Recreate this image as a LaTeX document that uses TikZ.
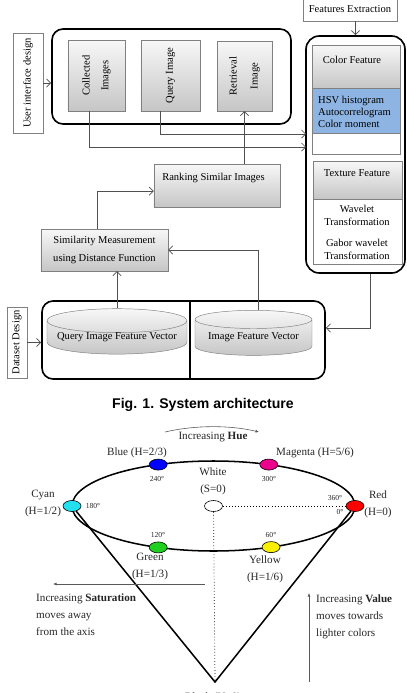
\documentclass[tikz,border=0pt]{standalone}
\usepackage{fontspec}
\setmainfont{Liberation Serif}
\newfontfamily\capfont{Liberation Sans}
\usepackage{graphicx}
\usetikzlibrary{arrows.meta,shapes.geometric,calc}

\definecolor{hsvblue}{HTML}{8DB4E2}
\definecolor{linegray}{HTML}{505050}
\definecolor{boxgray}{HTML}{808080}
\definecolor{dotcyan}{HTML}{22E0F0}
\definecolor{dotgreen}{HTML}{20D020}
\definecolor{dotyellow}{HTML}{F8F000}

\tikzset{
  txt/.style={font=\fontsize{9}{11}\selectfont, inner sep=0pt},
  lbox/.style={draw=boxgray, fill=white, inner sep=0pt, font=\fontsize{9}{11}\selectfont},
  gbox/.style={draw=boxgray, top color=gray!6, bottom color=gray!45, inner sep=0pt, font=\fontsize{9}{11}\selectfont},
  bigbox/.style={draw=black, line width=1.4pt, rounded corners=0.33cm, inner sep=0pt},
  conn/.style={draw=linegray, line width=0.6pt, -{Straight Barb[length=3.5pt,width=7pt]}},
  drum/.style={cylinder, shape border rotate=90, aspect=0.2, draw=boxgray, top color=gray!6, bottom color=gray!45, inner sep=0pt, font=\fontsize{9}{11}\selectfont},
  dot/.style={ellipse, draw=black, line width=0.5pt, minimum width=0.54cm, minimum height=0.33cm, inner sep=0pt},
  lbl/.style={font=\fontsize{9.5}{14.5}\selectfont, align=center, inner sep=0pt, text=black!85},
  deg/.style={font=\fontsize{6.5}{8}\selectfont, inner sep=0pt, text=black!85},
  thinarrow/.style={draw=gray!70!black, line width=0.5pt, -{Latex[length=3pt,width=2.5pt]}}
}

\begin{document}
\begin{tikzpicture}[x=0.03cm, y=-0.03cm]
\useasboundingbox (0,0) rectangle (406,693);

% user interface
\node[lbox, minimum width=0.9cm, minimum height=3cm] (ui) at (28,83) {\rotatebox{90}{User interface design}};
\node[bigbox, minimum width=7.17cm, minimum height=2.85cm] (top) at (171.5,76.5) {};
\node[gbox, minimum width=1.71cm, minimum height=2.13cm] (coll) at (96.5,75.5) {\rotatebox{90}{\begin{tabular}{@{}c@{}}Collected\\[5pt]Images\end{tabular}}};
\node[gbox, minimum width=1.77cm, minimum height=2.13cm] (query) at (170.5,75.5) {\rotatebox{90}{Query Image}};
\node[gbox, minimum width=1.65cm, minimum height=2.1cm] (retr) at (244.5,76) {\rotatebox{90}{\begin{tabular}{@{}c@{}}Retrieval\\[7pt]Image\end{tabular}}};
\draw[conn] (ui.east) -- (ui.east -| top.west);

% features
\node[lbox, minimum width=2.82cm, minimum height=0.72cm] (fx) at (350,9) {Features Extraction};
\node[bigbox, rounded corners=0.4cm, minimum width=2.97cm, minimum height=7.11cm] (feat) at (355.5,154.5) {};
\node[gbox, minimum width=2.64cm, minimum height=1.29cm] (colf) at (356,66.5) {};
\node[txt] (colf-t) at (352,60) {Color Feature};
\node[lbox, fill=hsvblue, minimum width=2.64cm, minimum height=1.35cm] (hsv) at (356,110.5) {};
\node[txt, anchor=west, align=left, font=\fontsize{9}{10.2}\selectfont] (hsv-t) at (318,112) {HSV histogram\\Autocorrelogram\\Color moment};
\node[lbox, minimum width=2.64cm, minimum height=0.63cm] (colw) at (356,143.5) {};
\node[gbox, minimum width=2.67cm, minimum height=1.14cm] (texf) at (357.5,180) {};
\node[txt] (texf-t) at (357,173) {Texture Feature};
\node[lbox, minimum width=2.67cm, minimum height=1.95cm] (texw) at (357.5,231.5) {};
\node[txt, align=center] (wav) at (357,215.5) {Wavelet\\Transformation};
\node[txt, align=center] (gab) at (357,249.5) {Gabor wavelet\\Transformation};
\draw[conn] (fx.south -| feat.north) -- (feat.north);

\coordinate (in1) at (306,134);
\coordinate (in2) at (306,147);
\draw[conn] ([xshift=-0.315cm]query.south) |- (in1);
\draw[conn] ([xshift=-0.225cm]coll.south) |- (in2);

% ranking and similarity
\node[gbox, minimum width=3.78cm, minimum height=1.29cm] (rank) at (217,185.5) {};
\node[txt] (rank-t) at (213.5,178) {Ranking Similar Images};
\draw[conn] (rank.north -| retr.south) -- (retr.south);
\node[gbox, minimum width=3.81cm, minimum height=1.26cm, align=center, font=\fontsize{9}{16}\selectfont] (sim) at (104.5,250) {Similarity Measurement\\using Distance Function};
\draw[conn] ([xshift=-0.22cm]sim.north) |- ([yshift=-0.17cm]rank.west);

% dataset
\node[lbox, minimum width=0.6cm, minimum height=2.13cm] (ds) at (17,342.5) {\rotatebox{90}{Dataset Design}};
\node[bigbox, minimum width=8.49cm, minimum height=2.34cm] (dsb) at (183.5,340) {};
\draw[line width=1.4pt] (dsb.north -| 190,0) -- (dsb.south -| 190,0);
\node[drum, minimum width=4.2cm, minimum height=1.35cm] (qfv) at (117,337.5) {Query Image Feature Vector};
\node[drum, minimum width=3.51cm, minimum height=1.35cm] (ifv) at (253.5,337.5) {Image Feature Vector};
\draw[conn] (ds.east) -- (ds.east -| dsb.west);
\draw[conn] (qfv.north) -- (qfv.north |- sim.south);
\draw[conn] ([xshift=0.135cm]ifv.north) |- (sim.east);
\draw[conn] ([xshift=0.44cm]feat.south) |- ([yshift=0.36cm]dsb.east);

\node[font=\fontsize{12}{14}\selectfont\capfont\bfseries, inner sep=0pt] (cap) at (203,405) {Fig. 1. System architecture};

% hsv cone
\coordinate (c) at (213.5,506);
\coordinate (apex) at (215,682);
\draw[line width=1.3pt] (c) ellipse [x radius=141.5, y radius=45];
\foreach \nm/\ang/\col in {red/0/red, yellow/66/dotyellow, green/113/dotgreen, cyan/180/dotcyan, blue/247/blue, magenta/293/magenta}
  \node[dot, fill=\col] (\nm) at ($(c)+(\ang:141.5 and 45)$) {};
\node[dot, fill=white] (white) at (c) {};
\draw[line width=1.3pt] (cyan) -- (apex) -- (red);
\draw[dotted, line width=0.6pt] (white) -- (red);
\draw[dotted, line width=0.6pt] (white) -- (apex);

\coordinate (hue-a) at (165,432);
\coordinate (hue-b) at (259,432);
\draw[thinarrow] (hue-a) .. controls (195,425) and (230,425) .. (hue-b);
\node[lbl] (hue-t) at (213,437) {Increasing \textbf{Hue}};

\node[lbl] (blue-t) at (137,453) {Blue (H=2/3)};
\node[lbl] (magenta-t) at (315,453) {Magenta (H=5/6)};
\node[lbl] (white-t) at (213,481.5) {White\\(S=0)};
\node[lbl] (cyan-t) at (43,503.5) {Cyan\\(H=1/2)};
\node[lbl] (red-t) at (378,504.5) {Red\\(H=0)};
\node[lbl] (green-t) at (150,566) {Green\\(H=1/3)};
\node[lbl] (yellow-t) at (265,569) {Yellow\\(H=1/6)};

\node[deg] (d240) at (157,479) {240°};
\node[deg] (d300) at (269,479) {300°};
\node[deg] (d180) at (93,506) {180°};
\node[deg] (d360) at (335,498) {360°};
\node[deg] (d0) at (340,512) {0°};
\node[deg] (d120) at (158,535) {120°};
\node[deg] (d60) at (271,535) {60°};

\coordinate (sat-a) at (205,584);
\coordinate (sat-b) at (53,584);
\draw[thinarrow] (sat-a) -- (sat-b);
\node[lbl, anchor=west, align=left] (sat-t) at (36,614.5) {Increasing \textbf{Saturation}\\moves away\\from the axis};

\coordinate (val-a) at (309,682);
\coordinate (val-b) at (309,593);
\draw[thinarrow] (val-a) -- (val-b);
\node[lbl, anchor=west, align=left] (val-t) at (316,616.5) {Increasing \textbf{Value}\\moves towards\\lighter colors};

\node[lbl] (black-t) at (213,698) {Black (V=0)};
\end{tikzpicture}
\end{document}
